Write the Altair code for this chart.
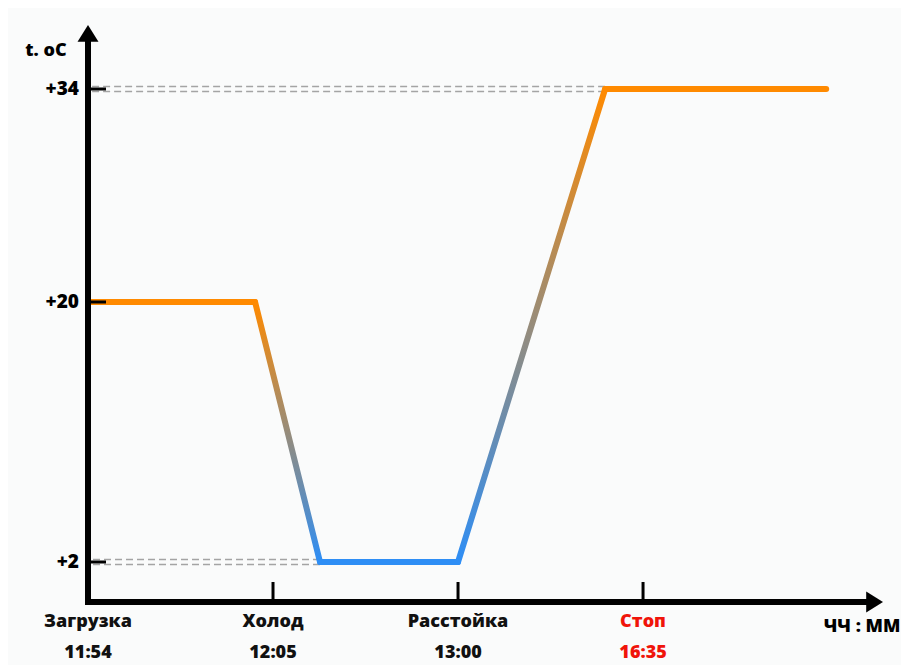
import altair as alt
import pandas as pd

# ---- data ----
stage_x = [0, 1, 2, 3]
stage_names = ["Загрузка", "Холод", "Расстойка", "Стоп"]
stage_times = ["11:54", "12:05", "13:00", "16:35"]
stage_colors = ["#111111", "#111111", "#111111", "#f0140a"]

prof_x = [0, 0.903, 1.254, 2.0, 2.795, 3.99]
prof_t = [20, 20, 2, 2, 34, 34]
seg_kind = ["flat_o", "grad", "flat_b", "grad", "flat_o"]

y_ticks = [34, 20, 2]
y_labels = ["+34", "+20", "+2"]

ref_t = [34, 2]
ref_x_end = [2.795, 1.254]

X_MAX = 4.297
Y_DOMAIN = [-0.7, 2, 20, 34, 38.3]

W, H = 795, 577
ORANGE = "#ff8a00"
BLUE = "#2e8ef5"
FONT = "Open Sans"
WEIGHT = 800

# ---- tables ----
rows = []
for i in range(len(prof_x) - 1):
    rows.append({"seg": i, "kind": seg_kind[i], "x": prof_x[i], "t": prof_t[i]})
    rows.append({"seg": i, "kind": seg_kind[i], "x": prof_x[i + 1], "t": prof_t[i + 1]})
seg_df = pd.DataFrame(rows)

stages = pd.DataFrame({"x": stage_x, "name": stage_names, "time": stage_times, "c": stage_colors})
yt = pd.DataFrame({"t": y_ticks, "lab": y_labels})
ref = pd.DataFrame({"t": ref_t, "xe": ref_x_end})
one = pd.DataFrame({"a": [0]})

xs = alt.Scale(domain=[0, X_MAX], nice=False, zero=False)
ys = alt.Scale(domain=Y_DOMAIN, range=[H, H - 40, H - 300, 64, 0], nice=False, zero=False)

def X(f):
    return alt.X(f, type="quantitative", scale=xs, axis=None)

def Y(f):
    return alt.Y(f, type="quantitative", scale=ys, axis=None)

grad = alt.Gradient(
    gradient="linear",
    stops=[alt.GradientStop(color=ORANGE, offset=0), alt.GradientStop(color=BLUE, offset=1)],
    x1=0, x2=0, y1=0, y2=1,
)

layers = []

# dashed double reference lines
for off in (-2.5, 2.5):
    layers.append(
        alt.Chart(ref).mark_rule(color="#a4a4a4", strokeWidth=1.6, strokeDash=[7, 4], yOffset=off)
        .encode(x=X("xe"), x2=alt.value(3), y=Y("t"))
    )

# profile segments
for i, k in enumerate(seg_kind):
    base = alt.Chart(seg_df).transform_filter(alt.datum.seg == i)
    if k == "grad":
        m = base.mark_line(stroke=grad, strokeWidth=6, strokeCap="round")
    else:
        m = base.mark_line(color=ORANGE if k == "flat_o" else BLUE, strokeWidth=6, strokeCap="round")
    layers.append(m.encode(x=X("x"), y=Y("t")))

# y ticks (inward)
layers.append(
    alt.Chart(yt).mark_rule(color="#000000", strokeWidth=3)
    .encode(y=Y("t"), x=alt.value(0), x2=alt.value(18))
)
# x ticks (upward)
layers.append(
    alt.Chart(stages[stages.x > 0]).mark_rule(color="#000000", strokeWidth=3)
    .encode(x=X("x"), y=alt.value(H), y2=alt.value(H - 20))
)
# axes lines
layers.append(
    alt.Chart(one).mark_rule(color="#000000", strokeWidth=6)
    .encode(x=alt.value(0), y=alt.value(H + 3), y2=alt.value(16))
)
layers.append(
    alt.Chart(one).mark_rule(color="#000000", strokeWidth=6)
    .encode(y=alt.value(H), x=alt.value(-3), x2=alt.value(W - 16))
)
# arrow heads
layers.append(
    alt.Chart(one).mark_point(shape="M0,0 L1,1.6 L-1,1.6 Z", filled=True, size=441, color="#000000", opacity=1)
    .encode(x=alt.X(datum=0, type="quantitative", scale=xs, axis=None),
            y=alt.Y(datum=Y_DOMAIN[-1], type="quantitative", scale=ys, axis=None))
)
layers.append(
    alt.Chart(one).mark_point(shape="M0,0 L-1.6,-1 L-1.6,1 Z", filled=True, size=441, color="#000000", opacity=1)
    .encode(x=alt.X(datum=X_MAX, type="quantitative", scale=xs, axis=None),
            y=alt.Y(datum=Y_DOMAIN[0], type="quantitative", scale=ys, axis=None))
)

# y labels
layers.append(
    alt.Chart(yt).mark_text(font=FONT, fontSize=19, fontWeight=WEIGHT, align="right", baseline="middle",
                            dx=-9, color="#000000")
    .encode(y=Y("t"), x=alt.value(0), text="lab:N")
)
# stage names and times
layers.append(
    alt.Chart(stages).mark_text(font=FONT, fontSize=18, fontWeight=WEIGHT, align="center", baseline="middle", dy=20)
    .encode(x=X("x"), y=alt.value(H), text="name:N", color=alt.Color("c:N", scale=None))
)
layers.append(
    alt.Chart(stages).mark_text(font=FONT, fontSize=18, fontWeight=WEIGHT, align="center", baseline="middle", dy=51)
    .encode(x=X("x"), y=alt.value(H), text="time:N", color=alt.Color("c:N", scale=None))
)
# axis titles
layers.append(
    alt.Chart(one).mark_text(font=FONT, fontSize=18, fontWeight=WEIGHT, align="center", baseline="middle",
                             text="t. oC", color="#000000")
    .encode(x=alt.value(-42), y=alt.value(26))
)
layers.append(
    alt.Chart(one).mark_text(font=FONT, fontSize=18, fontWeight=WEIGHT, align="center", baseline="middle",
                             text="ЧЧ : ММ", color="#000000")
    .encode(x=alt.value(W - 21), y=alt.value(H + 25))
)

chart = alt.layer(*layers).properties(
    width=W, height=H,
    padding={"left": 80, "top": 17, "right": 18, "bottom": 63},
    autosize=alt.AutoSizeParams(type="none"),
    background="#fafbfb",
).configure_view(stroke=None)

chart.save("out.html", embed_options={"renderer": "svg", "actions": False})
